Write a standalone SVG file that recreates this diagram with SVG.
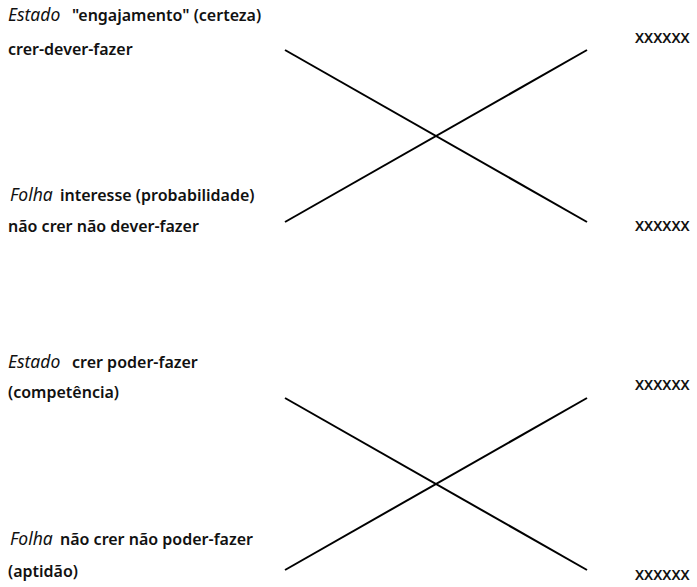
<svg xmlns="http://www.w3.org/2000/svg" width="697" height="587" viewBox="0 0 697 587">
<style>
text{font-family:"Noto Sans","Open Sans","DejaVu Sans",sans-serif;font-size:16px;fill:#111;}
.b{font-weight:600;}
.i{font-style:italic;font-weight:400;font-size:17.5px;}
.x{font-size:14.3px;}
line{stroke:#000;stroke-width:2;stroke-linecap:butt;}
</style>
<rect width="697" height="587" fill="#fff"/>
<g id="label-top">
<text x="8" y="21"><tspan class="i">Estado</tspan><tspan class="b" x="72">"engajamento" (certeza)</tspan></text>
<text class="b" x="8" y="55">crer-dever-fazer</text>
</g>
<g id="label-top2">
<text x="10" y="201"><tspan class="i">Folha</tspan><tspan class="b" x="60">interesse (probabilidade)</tspan></text>
<text class="b" x="8" y="232">não crer não dever-fazer</text>
</g>
<g id="label-bottom">
<text x="8" y="368"><tspan class="i">Estado</tspan><tspan class="b" x="72">crer poder-fazer</tspan></text>
<text class="b" x="8" y="398">(competência)</text>
</g>
<g id="label-bottom2">
<text x="10" y="545"><tspan class="i">Folha</tspan><tspan class="b" x="60">não crer não poder-fazer</tspan></text>
<text class="b" x="8" y="577">(aptidão)</text>
</g>
<g id="x-labels">
<text class="b x" x="635" y="43">XXXXXX</text>
<text class="b x" x="635" y="231">XXXXXX</text>
<text class="b x" x="635" y="390">XXXXXX</text>
<text class="b x" x="635" y="580">XXXXXX</text>
</g>
<g id="connectors">
<line x1="285" y1="50" x2="587" y2="222"/>
<line x1="285" y1="222" x2="587" y2="50"/>
<line x1="285" y1="398" x2="587" y2="570"/>
<line x1="285" y1="570" x2="587" y2="398"/>
</g>
</svg>
